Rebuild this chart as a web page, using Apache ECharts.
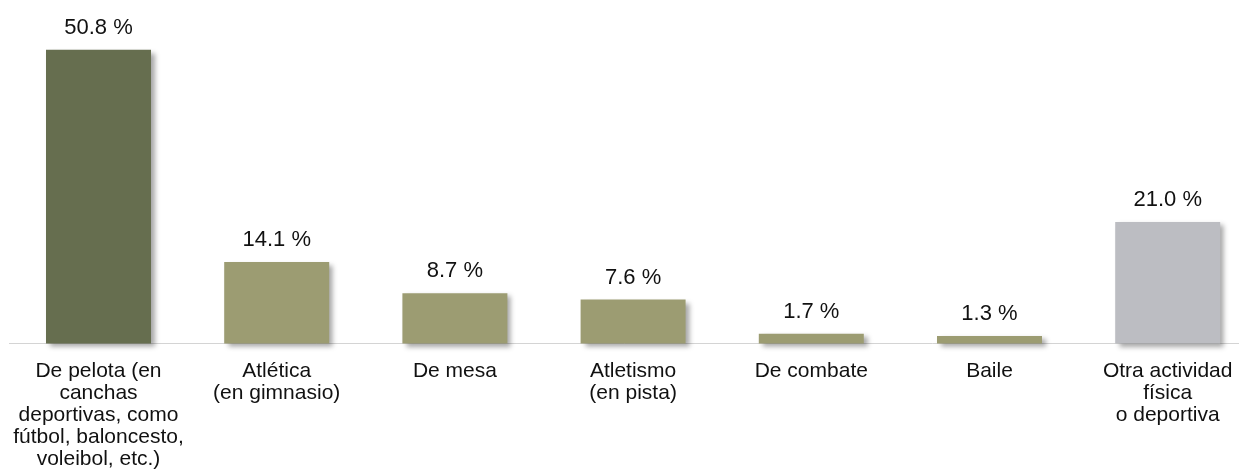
<!DOCTYPE html>
<html>
<head>
<meta charset="utf-8">
<script src="https://cdn.jsdelivr.net/npm/echarts@6/dist/echarts.min.js"></script>
<style>
html, body { margin: 0; padding: 0; background: #fff; }
#main { width: 1239px; height: 475px; }
</style>
</head>
<body>
<div id="main"></div>
<script>
var categories = [
	'De pelota (en\ncanchas\ndeportivas, como\nfútbol, baloncesto,\nvoleibol, etc.)',
	'Atlética\n(en gimnasio)',
	'De mesa',
	'Atletismo\n(en pista)',
	'De combate',
	'Baile',
	'Otra actividad\nfísica\no deportiva'
]
var values = [50.8, 14.1, 8.7, 7.6, 1.7, 1.3, 21.0]
var barColors = ['#666e4f', '#9c9c72', '#9c9c72', '#9c9c72', '#9c9c72', '#9c9c72', '#bcbdc2']

var myChart = echarts.init(document.getElementById('main'));
var option = {
	animation: false,
	grid: {
		left: 9.4,
		top: 0,
		width: 1247.4,
		height: 343.5,
		containLabel: false,
		outerBoundsMode: 'none'
	},
	xAxis: {
		type: 'category',
		data: categories,
		axisLine: { lineStyle: { color: '#d4d4d4', width: 1 } },
		axisTick: { show: false },
		axisLabel: {
			interval: 0,
			margin: 17,
			fontFamily: 'Liberation Sans, Arial',
			fontSize: 21,
			lineHeight: 22,
			color: '#111'
		}
	},
	yAxis: {
		type: 'value',
		min: 0,
		max: 59.4,
		show: false,
		splitLine: { show: false }
	},
	series: [{
		type: 'bar',
		barWidth: 105,
		data: values.map(function(v, i) {
			return { value: v, itemStyle: { color: barColors[i] } }
		}),
		itemStyle: {
			shadowColor: 'rgba(0,0,0,0.35)',
			shadowBlur: 5,
			shadowOffsetX: 4,
			shadowOffsetY: 3
		},
		label: {
			show: true,
			position: 'top',
			distance: 11,
			fontFamily: 'Liberation Sans, Arial',
			fontSize: 22,
			color: '#111',
			formatter: function(p) { return p.value.toFixed(1) + ' %' }
		}
	}]
};
myChart.setOption(option);
</script>
</body>
</html>
